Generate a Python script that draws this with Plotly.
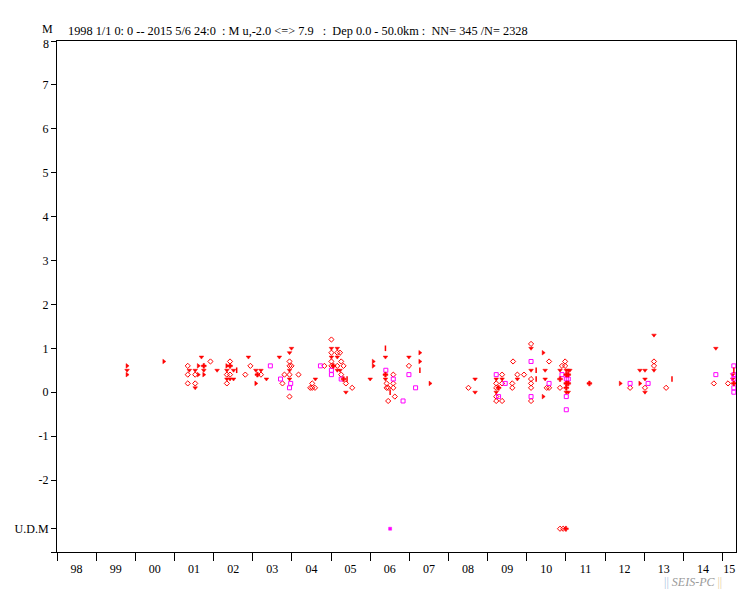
import plotly.graph_objects as go

# ---------------- data (decimal year, magnitude) ----------------
# red open diamonds
D_YEAR = [2001.34, 2001.34, 2001.34, 2001.53, 2001.53, 2001.92, 2002.34, 2002.34,
          2002.42, 2002.42, 2002.81, 2002.94, 2003.21, 2003.76, 2003.81,
          2003.94, 2003.94, 2003.94, 2003.94, 2003.99, 2004.17, 2004.47, 2004.52, 2004.52,
          2004.59, 2004.83, 2005.01, 2005.01, 2005.01, 2005.01, 2005.16, 2005.16,
          2005.23, 2005.26, 2005.26, 2005.32, 2005.38, 2005.54, 2006.42, 2006.42,
          2006.46, 2006.46, 2006.59, 2006.59, 2006.59, 2006.63, 2006.99, 2008.51,
          2009.22, 2009.22, 2009.22, 2009.22, 2009.37, 2009.37, 2009.37, 2009.63, 2009.63,
          2009.65, 2009.76, 2009.93, 2010.11, 2010.11, 2010.11, 2010.11, 2010.11,
          2010.51, 2010.57, 2010.57, 2010.85, 2010.90, 2010.98, 2010.98, 2012.64,
          2013.02, 2013.25, 2013.25, 2013.56, 2014.78, 2015.14]
D_MAG = [0.6, 0.4, 0.2, 0.4, 0.2, 0.7, 0.4, 0.2,
         0.7, 0.4, 0.4, 0.6, 0.4, 0.2, 0.4,
         0.7, 0.6, 0.4, -0.1, 0.6, 0.4, 0.1, 0.1, 0.2,
         0.1, 0.6, 1.2, 0.9, 0.7, 0.6, 0.9, 0.6,
         0.9, 0.7, 0.4, 0.6, 0.2, 0.1, 0.2, 0.1,
         -0.2, 0.1, 0.4, 0.2, 0.1, -0.1, 0.6, 0.1,
         0.2, 0.1, -0.1, -0.2, 0.4, 0.2, -0.2, 0.2, 0.1,
         0.7, 0.4, 0.4, 1.1, 0.3, 0.2, 0.1, -0.2,
         0.1, 0.7, 0.1, 0.1, 0.6, 0.7, 0.6, 0.1,
         0.1, 0.7, 0.6, 0.1, 0.2, 0.2]

# red small down-triangles
T_YEAR = [1999.79, 2001.38, 2001.53, 2001.53, 2001.69, 2001.75, 2002.09, 2002.34, 2002.34,
          2002.42, 2002.51, 2002.51, 2002.89, 2003.08, 2003.21, 2003.35, 2003.68,
          2003.94, 2003.94, 2003.94, 2003.99, 2004.60, 2005.01, 2005.01, 2005.16, 2005.16,
          2005.16, 2005.23, 2005.38, 2006.00, 2006.39, 2006.39, 2006.99, 2008.68, 2008.68,
          2009.22, 2009.22, 2009.37, 2009.76, 2010.11, 2010.11, 2010.47, 2010.47, 2010.85,
          2011.01, 2011.01, 2011.06, 2011.06, 2011.10, 2012.89, 2013.02, 2013.02, 2013.02,
          2013.25, 2013.25, 2014.83, 2015.26, 2015.26]
T_MAG = [0.5, 0.5, 0.5, 0.1, 0.8, 0.5, 0.5, 0.5, 0.3,
         0.3, 0.5, 0.3, 0.8, 0.5, 0.5, 0.3, 0.8,
         0.9, 0.5, 0.3, 1.0, 0.3, 1.0, 0.8, 1.0, 0.8,
         0.5, 0.5, 0.0, 0.3, 0.8, 0.3, 0.8, 0.3, 0.0,
         0.3, 0.0, 0.3, 0.3, 1.0, 0.5, 0.5, 0.3, 0.5,
         0.5, 0.0, 0.5, 0.0, 0.5, 0.5, 0.5, 0.3, 0.0,
         1.3, 0.5, 1.0, 0.4, 0.3]

# red right-pointing triangles
R_YEAR = [1999.79, 1999.79, 2000.73, 2001.61, 2001.61, 2001.75, 2002.34, 2003.08,
          2006.08, 2006.08, 2007.27, 2007.27, 2007.53, 2010.42, 2010.42, 2012.39, 2012.89]
R_MAG = [0.6, 0.4, 0.7, 0.6, 0.4, 0.4, 0.6, 0.2,
         0.7, 0.6, 0.9, 0.7, 0.2, 0.9, -0.1, 0.2, 0.2]

# magenta open squares
S_YEAR = [2003.45, 2003.71, 2003.94, 2003.97, 2004.73, 2005.01, 2005.01, 2005.26,
          2006.40, 2006.59, 2006.84, 2006.99, 2007.16, 2009.22, 2009.28, 2009.45,
          2010.11, 2010.11, 2010.57, 2010.90, 2011.01, 2011.01, 2011.01, 2011.06,
          2012.64, 2013.10, 2014.83, 2015.29, 2015.29, 2015.29, 2015.29, 2015.29]
S_MAG = [0.6, 0.3, 0.1, 0.2, 0.6, 0.5, 0.4, 0.3,
         0.5, 0.3, -0.2, 0.4, 0.1, 0.4, -0.1, 0.2,
         0.7, -0.1, 0.2, 0.4, 0.3, -0.1, -0.4, 0.3,
         0.2, 0.2, 0.4, 0.6, 0.4, 0.3, 0.1, 0.0]

# red filled crosses
F_YEAR = [2001.75, 2002.42, 2003.12, 2005.06, 2005.32, 2006.39, 2009.28, 2010.85,
          2011.01, 2011.01, 2011.01, 2011.06, 2011.06, 2011.60, 2015.29]
F_MAG = [0.6, 0.6, 0.4, 0.6, 0.3, 0.4, 0.1, 0.3,
         0.4, 0.2, 0.1, 0.4, 0.2, 0.2, 0.2]

# red short vertical bars
B_YEAR = [2002.59, 2005.41, 2006.39, 2006.51, 2007.27, 2010.24, 2010.24, 2013.71, 2015.29]
B_MAG = [0.5, 0.3, 1.0, 0.0, 0.5, 0.5, 0.3, 0.3, 0.5]

# events with undetermined magnitude (U.D.M row)
UDM_S_YEAR = [2006.51]
UDM_D_YEAR = [2010.85, 2010.93]
UDM_F_YEAR = [2011.00]

Y_TICKS = [8, 7, 6, 5, 4, 3, 2, 1, 0, -1, -2]
YEAR_LABELS = ["98", "99", "00", "01", "02", "03", "04", "05", "06", "07",
               "08", "09", "10", "11", "12", "13", "14", "15"]
YEAR_START = 1998
END_YEAR = 2015 + 126 / 365.0   # 2015 5/6

UDM_LEVEL = -3.11
Y_BOTTOM = -3.64
Y_TOP = 8.0

TITLE = ("1998 1/1 0: 0 -- 2015 5/6 24:0  : M u,-2.0 <=> 7.9   :  "
         "Dep 0.0 - 50.0km :  NN= 345 /N= 2328")

RED = "#ff0000"
MAG = "#ff00ff"
FONT = "Liberation Serif, Times New Roman, serif"

fig = go.Figure()

def add(xs, ys, symbol, size, color, lw=1.0):
    fig.add_trace(go.Scatter(
        x=xs, y=ys, mode="markers", hoverinfo="skip",
        marker=dict(symbol=symbol, size=size, color=color,
                    line=dict(color=color, width=lw))))

add(D_YEAR, D_MAG, "diamond-open", 4, RED, 1.0)
add(T_YEAR, T_MAG, "triangle-down", 4, RED, 0.5)
add(R_YEAR, R_MAG, "triangle-right", 4, RED, 0.5)
add(S_YEAR, S_MAG, "square-open", 4, MAG, 1.0)
add(F_YEAR, F_MAG, "cross", 4, RED, 0.5)
add(B_YEAR, B_MAG, "line-ns-open", 4, RED, 1.5)
add(UDM_S_YEAR, [UDM_LEVEL] * len(UDM_S_YEAR), "square", 3, MAG, 0.5)
add(UDM_D_YEAR, [UDM_LEVEL] * len(UDM_D_YEAR), "diamond-open", 4, RED, 1.0)
add(UDM_F_YEAR, [UDM_LEVEL] * len(UDM_F_YEAR), "cross", 4, RED, 0.5)

years = list(range(YEAR_START, YEAR_START + len(YEAR_LABELS)))
label_pos = [y + 0.5 for y in years[:-1]] + [(years[-1] + END_YEAR) / 2]

# top tick label is drawn a little below its tick (as in the reference)
y_ticktext = ["" if v == Y_TOP else str(v) for v in Y_TICKS] + ["U.D.M", ""]

# the page body adds an 8px offset, so the figure is sized/margined to compensate
fig.update_layout(
    width=743, height=585,
    margin=dict(l=49, r=15, t=33, b=41, autoexpand=False),
    paper_bgcolor="white", plot_bgcolor="white",
    showlegend=False,
    font=dict(family=FONT, size=12, color="black"),
    xaxis=dict(
        range=[YEAR_START, END_YEAR], showgrid=False, zeroline=False,
        showline=True, linecolor="black", linewidth=1, mirror=True,
        tickmode="array", tickvals=label_pos, ticktext=YEAR_LABELS,
        ticks="outside", ticklen=6, tickcolor="rgba(0,0,0,0)",
        minor=dict(tickmode="array", tickvals=years, ticks="outside",
                   ticklen=8, tickcolor="black", tickwidth=1, showgrid=False),
        tickfont=dict(family=FONT, size=12, color="black"),
        automargin=False, fixedrange=True,
    ),
    yaxis=dict(
        range=[Y_BOTTOM, Y_TOP], showgrid=False, zeroline=False,
        showline=True, linecolor="black", linewidth=1, mirror=True,
        tickmode="array", tickvals=Y_TICKS + [UDM_LEVEL, Y_BOTTOM],
        ticktext=y_ticktext,
        ticks="outside", ticklen=5, tickcolor="black",
        tickfont=dict(family=FONT, size=12, color="black"),
        automargin=False, fixedrange=True,
    ),
    annotations=[
        dict(text="M", xref="paper", yref="paper", x=-0.0133, y=1.0235,
             xanchor="center", yanchor="middle", showarrow=False,
             font=dict(family=FONT, size=12, color="black")),
        dict(text=str(int(Y_TOP)), xref="paper", yref="paper", x=-0.0095, y=0.9935,
             xanchor="right", yanchor="middle", showarrow=False,
             font=dict(family=FONT, size=12, color="black")),
        dict(text=TITLE.replace(" ", "\u00a0"), xref="paper", yref="paper",
             x=0.0135, y=1.0186, xanchor="left", yanchor="middle",
             showarrow=False, font=dict(family=FONT, size=12.3, color="black")),
        dict(text="<span style='color:#a8c4e0'>||</span> <i>SEIS-PC</i> "
                  "<span style='color:#e8cfa0'>||</span>",
             xref="paper", yref="paper", x=0.937, y=-0.058,
             xanchor="center", yanchor="middle", showarrow=False,
             font=dict(family=FONT, size=12, color="#9a9a9a")),
    ],
)

fig.write_html("out.html")
